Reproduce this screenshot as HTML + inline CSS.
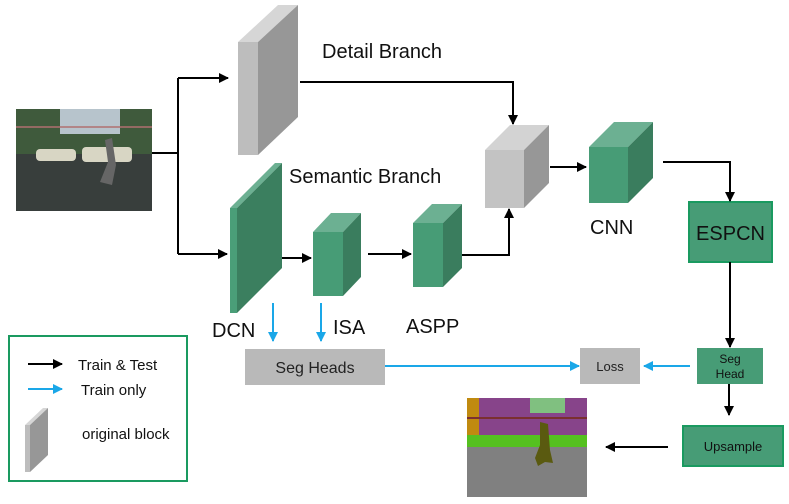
<!DOCTYPE html>
<html><head><meta charset="utf-8"><style>body{margin:0;background:#fff}svg{display:block}text{font-family:"Liberation Sans",sans-serif}</style></head><body>
<svg width="789" height="504" viewBox="0 0 789 504" xmlns="http://www.w3.org/2000/svg">
<defs>
<marker id="ab" markerWidth="10" markerHeight="10" refX="9" refY="5" orient="auto" markerUnits="userSpaceOnUse"><path d="M0,0L10,5L0,10z" fill="#000"/></marker>
<marker id="bl" markerWidth="10" markerHeight="10" refX="9" refY="5" orient="auto" markerUnits="userSpaceOnUse"><path d="M0,0L10,5L0,10z" fill="#1aa7e8"/></marker>
</defs>
<!-- input image -->
<rect x="16" y="109" width="136" height="102" fill="#3a4440"/>
<rect x="16" y="109" width="136" height="45" fill="#3f5a3c"/>
<rect x="60" y="109" width="60" height="25" fill="#b7c4cc"/>
<rect x="16" y="154" width="136" height="57" fill="#383e3c"/>
<line x1="16" y1="127" x2="152" y2="127" stroke="#b07070" stroke-width="1.5"/>
<rect x="36" y="149" width="40" height="12" rx="4" fill="#d8d6c4"/>
<rect x="82" y="147" width="50" height="15" rx="4" fill="#d8d6c4"/>
<path d="M105,140 L112,138 L116,165 L112,185 L100,182 L108,162z" fill="#666"/>
<!-- detail slab -->
<polygon points="238,42 278,5 298,5 258,42" fill="#d6d6d6"/>
<rect x="238" y="42" width="20" height="113" fill="#bdbdbd"/>
<polygon points="258,42 298,5 298,117 258,155" fill="#979797"/>
<!-- DCN slab -->
<polygon points="230,208 275,163 282,163 237,208" fill="#6cb092"/>
<rect x="230" y="208" width="7" height="105" fill="#4a9e78"/>
<polygon points="237,208 282,163 282,268 237,313" fill="#3b7f5f"/>
<!-- ISA -->
<polygon points="313,232 331,213 361,213 343,232" fill="#6cb092"/>
<rect x="313" y="232" width="30" height="64" fill="#479c76"/>
<polygon points="343,232 361,213 361,277 343,296" fill="#3a7d5e"/>
<!-- ASPP -->
<polygon points="413,223 432,204 462,204 443,223" fill="#6cb092"/>
<rect x="413" y="223" width="30" height="64" fill="#479c76"/>
<polygon points="443,223 462,204 462,268 443,287" fill="#3a7d5e"/>
<!-- gray cube -->
<polygon points="485,150 510,125 549,125 524,150" fill="#d3d3d3"/>
<rect x="485" y="150" width="39" height="58" fill="#c3c3c3"/>
<polygon points="524,150 549,125 549,183 524,208" fill="#979797"/>
<!-- CNN cube -->
<polygon points="589,147 614,122 653,122 628,147" fill="#6cb092"/>
<rect x="589" y="147" width="39" height="56" fill="#479c76"/>
<polygon points="628,147 653,122 653,178 628,203" fill="#3a7d5e"/>
<!-- boxes -->
<rect x="689" y="202" width="83" height="60" fill="#479c76" stroke="#1a9a60" stroke-width="2"/>
<text x="730.5" y="240" font-size="20" text-anchor="middle" fill="#111">ESPCN</text>
<rect x="697" y="348" width="66" height="36" fill="#479c76"/>
<text x="730" y="363" font-size="12" text-anchor="middle" fill="#111">Seg</text>
<text x="730" y="378" font-size="12" text-anchor="middle" fill="#111">Head</text>
<rect x="580" y="348" width="60" height="36" fill="#b9b9b9"/>
<text x="610" y="371" font-size="13" text-anchor="middle" fill="#222">Loss</text>
<rect x="683" y="426" width="100" height="40" fill="#479c76" stroke="#1a9a60" stroke-width="2"/>
<text x="733" y="451" font-size="13" text-anchor="middle" fill="#111">Upsample</text>
<rect x="245" y="349" width="140" height="36" fill="#b9b9b9"/>
<text x="315" y="373" font-size="16" text-anchor="middle" fill="#222">Seg Heads</text>
<!-- seg output -->
<rect x="467" y="398" width="120" height="99" fill="#808080"/>
<rect x="467" y="398" width="120" height="45" fill="#87448a"/>
<rect x="530" y="398" width="35" height="15" fill="#80c080"/>
<rect x="467" y="398" width="12" height="45" fill="#c08a10"/>
<rect x="467" y="435" width="120" height="12" fill="#55c020"/>
<line x1="467" y1="418" x2="587" y2="418" stroke="#7a3030" stroke-width="2"/>
<path d="M540,422 L548,424 L550,450 L553,463 L545,462 L538,466 L535,458 L540,445z" fill="#5a5a10"/>
<!-- legend -->
<rect x="9" y="336" width="178" height="145" fill="none" stroke="#1a9a60" stroke-width="2"/>
<line x1="28" y1="364" x2="62" y2="364" stroke="#000" stroke-width="2" marker-end="url(#ab)"/>
<text x="78" y="370" font-size="15" fill="#111">Train &amp; Test</text>
<line x1="28" y1="389" x2="62" y2="389" stroke="#1aa7e8" stroke-width="2" marker-end="url(#bl)"/>
<text x="81" y="395" font-size="15" fill="#111">Train only</text>
<polygon points="25,425 43,408 48,408 30,425" fill="#d6d6d6"/>
<rect x="25" y="425" width="5" height="47" fill="#bdbdbd"/>
<polygon points="30,425 48,408 48,455 30,472" fill="#979797"/>
<text x="82" y="439" font-size="15" fill="#111">original block</text>
<!-- labels -->
<text x="322" y="58" font-size="20" fill="#111">Detail Branch</text>
<text x="289" y="183" font-size="20" fill="#111">Semantic Branch</text>
<text x="212" y="337" font-size="20" fill="#111">DCN</text>
<text x="333" y="334" font-size="20" fill="#111">ISA</text>
<text x="406" y="333" font-size="20" fill="#111">ASPP</text>
<text x="590" y="234" font-size="20" fill="#111">CNN</text>
<!-- black connectors -->
<g stroke="#000" stroke-width="2" fill="none">
<polyline points="152,153 178,153"/>
<line x1="178" y1="78" x2="178" y2="254"/>
<line x1="178" y1="78" x2="228" y2="78" marker-end="url(#ab)"/>
<line x1="178" y1="254" x2="227" y2="254" marker-end="url(#ab)"/>
<polyline points="300,82 513,82 513,124" marker-end="url(#ab)"/>
<line x1="282" y1="258" x2="311" y2="258" marker-end="url(#ab)"/>
<line x1="368" y1="254" x2="411" y2="254" marker-end="url(#ab)"/>
<polyline points="462,255 509,255 509,209" marker-end="url(#ab)"/>
<line x1="550" y1="167" x2="586" y2="167" marker-end="url(#ab)"/>
<polyline points="663,162 730,162 730,201" marker-end="url(#ab)"/>
<line x1="730" y1="262" x2="730" y2="347" marker-end="url(#ab)"/>
<line x1="729" y1="384" x2="729" y2="415" marker-end="url(#ab)"/>
<line x1="668" y1="447" x2="606" y2="447" marker-end="url(#ab)"/>
</g>
<g stroke="#1aa7e8" stroke-width="2" fill="none">
<line x1="690" y1="366" x2="644" y2="366" marker-end="url(#bl)"/>
<line x1="385" y1="366" x2="579" y2="366" marker-end="url(#bl)"/>
<line x1="273" y1="303" x2="273" y2="341" marker-end="url(#bl)"/>
<line x1="321" y1="303" x2="321" y2="341" marker-end="url(#bl)"/>
</g>
</svg>
</body></html>
